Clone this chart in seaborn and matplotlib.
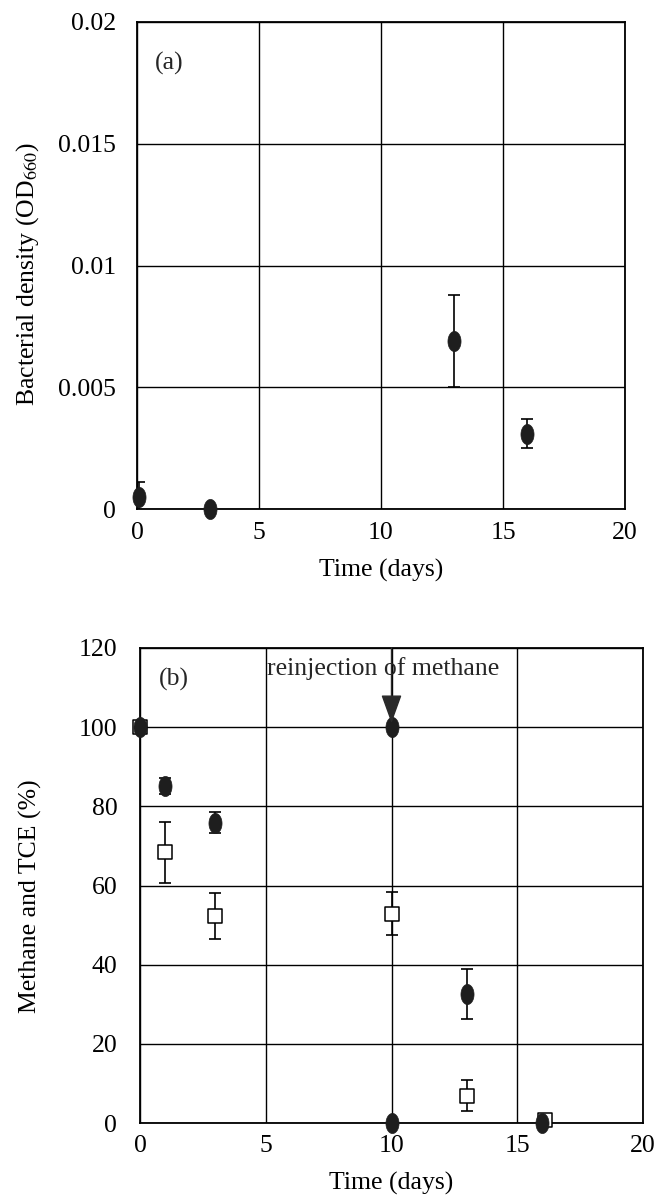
import numpy as np
import matplotlib
matplotlib.use("Agg")
import matplotlib.pyplot as plt
from matplotlib.path import Path
import seaborn as sns
import pandas as pd

# ---------------- data ----------------
# panel (a): bacterial density
days_a = [0.1, 3, 13, 16]
od660 = [0.0005, 0.0, 0.0069, 0.0031]
od660_err = [0.0006, 0.0, 0.0019, 0.0006]

# panel (b): methane (filled circles) and TCE (open squares), %
methane_days = [0, 1, 3, 10, 10, 13, 16]
methane = [100, 85.2, 75.9, 100, 0, 32.5, 0]
methane_err = [0, 2.0, 2.6, 0, 0, 6.3, 0]

tce_days = [0, 1, 3, 10, 13, 16.1]
tce = [100, 68.4, 52.3, 52.9, 6.9, 0.7]
tce_err = [0, 7.7, 5.8, 5.5, 3.9, 0]

xticks = [0, 5, 10, 15, 20]
yticks_a = [0, 0.005, 0.01, 0.015, 0.02]
yticklabels_a = ["0", "0.005", "0.01", "0.015", "0.02"]
yticks_b = [0, 20, 40, 60, 80, 100, 120]

# ---------------- style ----------------
sns.set_style("white")
plt.rcParams["font.family"] = ["Liberation Serif", "DejaVu Serif"]
plt.rcParams["mathtext.fontset"] = "stix"
FS = 18.5

# ellipse marker (taller than wide)
theta = np.linspace(0, 2 * np.pi, 60)
ell = Path(np.column_stack([0.65 * np.cos(theta), np.sin(theta)]), closed=True)

dot_color = "#1e1e1e"

fig = plt.figure(figsize=(6.72, 11.96), dpi=100)
W, H = 672, 1196
ax1 = fig.add_axes([137 / W, 1 - 509 / H, 488 / W, 487 / H])
ax2 = fig.add_axes([140 / W, 1 - 1123 / H, 503 / W, 475 / H])

for ax in (ax1, ax2):
    ax.set_xlim(0, 20)
    ax.set_xticks(xticks)
    ax.grid(True, color="black", linewidth=1.0)
    ax.set_axisbelow(True)
    for sp in ax.spines.values():
        sp.set_color("black")
        sp.set_linewidth(1.3)
    ax.tick_params(length=0, labelsize=FS, colors="black")

# ---------- panel (a) ----------
df_a = pd.DataFrame({"day": days_a, "od": od660, "err": od660_err})
ax1.set_ylim(0, 0.02)
ax1.set_yticks(yticks_a)
ax1.set_yticklabels(yticklabels_a)
ax1.errorbar(df_a["day"], df_a["od"], yerr=df_a["err"], fmt="none",
             ecolor="black", elinewidth=1.2, capsize=4, capthick=1.2, zorder=3)
sns.scatterplot(data=df_a, x="day", y="od", marker=ell, s=210, color=dot_color,
                edgecolor=dot_color, linewidth=0.5, ax=ax1, zorder=4, clip_on=False)
ax1.tick_params(axis="y", pad=15)
ax1.tick_params(axis="x", pad=9.5)
ax1.set_xlabel("Time (days)", fontsize=FS, labelpad=10.5, color="black")
ax1.set_ylabel("Bacterial density (OD$_{660}$)", fontsize=FS, color="black")
ax1.yaxis.set_label_coords(-0.197, 0.483)
ax1.text(0.74, 0.0183, "(a)", fontsize=FS, ha="left", va="center")

# ---------- panel (b) ----------
df_m = pd.DataFrame({"day": methane_days, "val": methane, "err": methane_err})
df_t = pd.DataFrame({"day": tce_days, "val": tce, "err": tce_err})
ax2.set_ylim(0, 120)
ax2.set_yticks(yticks_b)
ax2.errorbar(df_t["day"], df_t["val"], yerr=df_t["err"], fmt="none",
             ecolor="black", elinewidth=1.2, capsize=4, capthick=1.2, zorder=3)
ax2.errorbar(df_m["day"], df_m["val"], yerr=df_m["err"], fmt="none",
             ecolor="black", elinewidth=1.2, capsize=4, capthick=1.2, zorder=3)
sns.scatterplot(data=df_t, x="day", y="val", marker="s", s=105, color="white",
                edgecolor="black", linewidth=1.1, ax=ax2, zorder=4, clip_on=False)
sns.scatterplot(data=df_m, x="day", y="val", marker=ell, s=210, color=dot_color,
                edgecolor=dot_color, linewidth=0.5, ax=ax2, zorder=5, clip_on=False)
ax2.tick_params(axis="y", pad=16.3)
ax2.tick_params(axis="x", pad=9)
ax2.set_xlabel("Time (days)", fontsize=FS, labelpad=10.6, color="black")
ax2.set_ylabel("Methane and TCE (%)", fontsize=FS, color="black")
ax2.yaxis.set_label_coords(-0.195, 0.478)
ax2.text(0.74, 110.5, "(b)", fontsize=FS, ha="left", va="baseline")
ax2.text(5.05, 113.2, "reinjection of methane", fontsize=FS, ha="left",
         va="baseline", zorder=6)
ax2.annotate("", xy=(10, 101), xytext=(10, 120),
             arrowprops=dict(arrowstyle="-|>,head_length=1.8,head_width=0.65",
                             color="#2a2a2a", lw=1.0, mutation_scale=10,
                             shrinkA=0, shrinkB=0),
             zorder=6)

fig.savefig("out.png", dpi=100)
